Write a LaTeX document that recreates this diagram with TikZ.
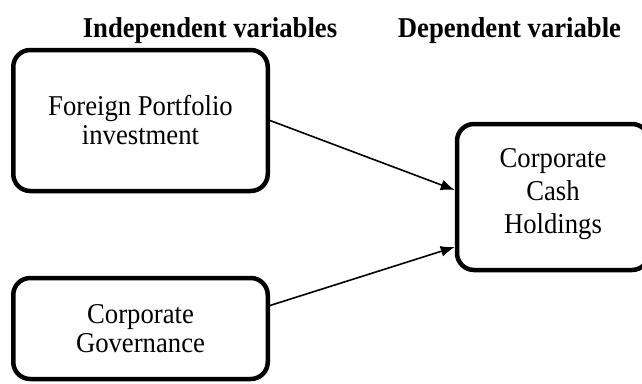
\documentclass[tikz,border=0pt]{standalone}
\usepackage{fontspec}
\setmainfont{Liberation Serif}[FakeStretch=0.93]
\usepackage{tikz}
\usetikzlibrary{positioning,calc,arrows.meta}

\begin{document}
\begin{tikzpicture}[x=1pt,y=-1pt,
    varbox/.style={draw, line width=4.5pt, rounded corners=17pt, align=center,
        font=\fontsize{28.7}{29}\selectfont},
    heading/.style={anchor=base, font=\fontsize{28.7}{29}\selectfont\bfseries},
    link/.style={line width=1.6pt, -{Latex[length=14pt,width=11pt]}}]
    \useasboundingbox (0,0) rectangle (642,383);

    % Headings
    \node[heading] (indep) at (210,37) {Independent variables};
    \node[heading] (dep) at (509.5,37) {Dependent variable};

    % Independent variables
    \node[varbox, minimum width=254.5pt, minimum height=141pt] (fpi) at (140.5,120.5)
        {Foreign Portfolio\\investment};
    \node[varbox, minimum width=254.5pt, minimum height=101pt] (cg) at (140.5,328.5)
        {Corporate\\Governance};

    % Dependent variable (right side runs past the edge)
    \node[varbox, minimum width=192pt, minimum height=146pt, text depth=13pt,
        font=\fontsize{28.7}{33}\selectfont] (cch) at (553,197)
        {Corporate\\Cash\\Holdings};

    % Links
    \draw[link] (fpi.east) -- ([yshift=7pt]cch.west);
    \draw[link] ([yshift=23pt]cg.east) -- ([yshift=-50pt]cch.west);
\end{tikzpicture}
\end{document}
